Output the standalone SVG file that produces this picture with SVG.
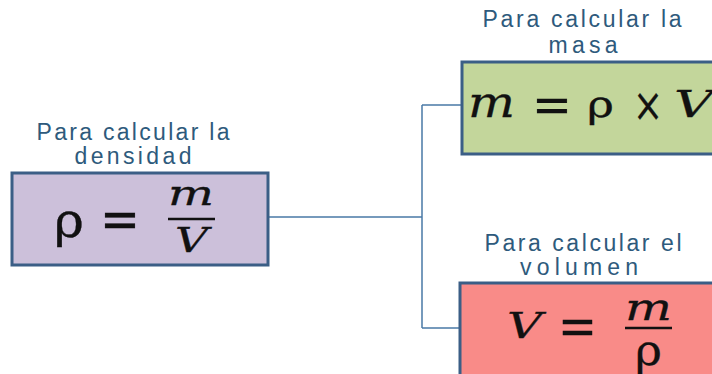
<svg xmlns="http://www.w3.org/2000/svg" width="712" height="374" viewBox="0 0 712 374">
<style>
.lbl{font-family:"Liberation Sans","Open Sans",sans-serif;font-size:23px;fill:#2e5a7c;text-anchor:middle}
.box{stroke:#3b5e86;stroke-width:3}
.f{font-family:"DejaVu Serif","Liberation Serif",serif;fill:#111;stroke:#111;stroke-width:0.3}
.i{font-style:italic}
.bar{stroke:#111;stroke-width:2.5}
.conn{fill:none;stroke:#4a7aa6;stroke-width:1.5}
</style>
<rect width="712" height="374" fill="#ffffff"/>
<g id="connectors">
<path class="conn" d="M268 217 H422 M422 105 V328 M422 105 H462 M422 328 H460"/>
</g>
<g id="densidad">
<text class="lbl" x="133" y="140" textLength="193">Para calcular la</text>
<text class="lbl" x="133" y="164" textLength="117">densidad</text>
<rect class="box" x="12" y="173" width="256" height="92" fill="#ccc0da"/>
<text class="f" x="54" y="237" font-size="48" textLength="30" lengthAdjust="spacingAndGlyphs">ρ</text>
<text class="f" x="100" y="238" font-size="54" textLength="40" lengthAdjust="spacingAndGlyphs">=</text>
<text class="f i" x="168" y="205" font-size="33" textLength="46" lengthAdjust="spacingAndGlyphs">m</text>
<line class="bar" x1="168" y1="219" x2="215" y2="219"/>
<text class="f i" x="175" y="252" font-size="33" textLength="33" lengthAdjust="spacingAndGlyphs">V</text>
</g>
<g id="masa">
<text class="lbl" x="582" y="27" textLength="199">Para calcular la</text>
<text class="lbl" x="583" y="53" textLength="69">masa</text>
<rect class="box" x="462" y="62" width="270" height="92" fill="#c3d69b"/>
<text class="f i" x="468" y="117" font-size="42" textLength="47" lengthAdjust="spacingAndGlyphs">m</text>
<text class="f" x="532" y="122" font-size="50" textLength="40" lengthAdjust="spacingAndGlyphs">=</text>
<text class="f" x="587" y="117" font-size="38" textLength="27" lengthAdjust="spacingAndGlyphs">ρ</text>
<text class="f" x="633" y="121" font-size="46" textLength="30" lengthAdjust="spacingAndGlyphs">×</text>
<text class="f i" x="674" y="117" font-size="37" textLength="39" lengthAdjust="spacingAndGlyphs">V</text>
</g>
<g id="volumen">
<text class="lbl" x="583" y="251" textLength="197">Para calcular el</text>
<text class="lbl" x="579" y="275" textLength="118">volumen</text>
<rect class="box" x="460" y="283" width="272" height="110" fill="#f98b88"/>
<text class="f i" x="507" y="338" font-size="35" textLength="35" lengthAdjust="spacingAndGlyphs">V</text>
<text class="f" x="558" y="344" font-size="52" textLength="39" lengthAdjust="spacingAndGlyphs">=</text>
<text class="f i" x="625" y="320" font-size="38" textLength="47" lengthAdjust="spacingAndGlyphs">m</text>
<line class="bar" x1="625" y1="328" x2="672" y2="328"/>
<text class="f" x="635" y="365" font-size="42" textLength="27" lengthAdjust="spacingAndGlyphs">ρ</text>
</g>
</svg>
